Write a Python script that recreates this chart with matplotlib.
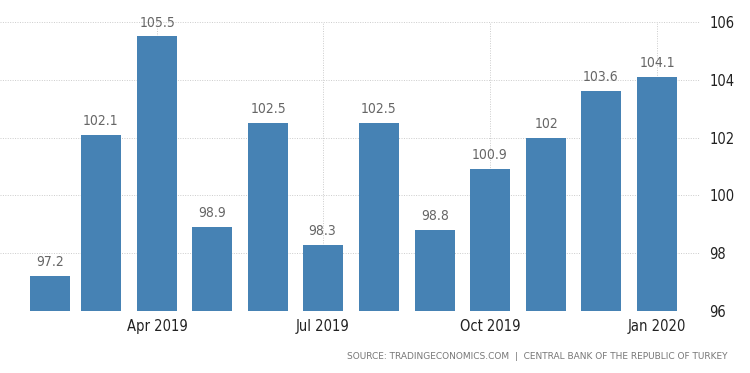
import datetime as dt
import matplotlib
matplotlib.use('Agg')
import matplotlib.pyplot as plt
import matplotlib.dates as mdates

months = ['2019-02', '2019-03', '2019-04', '2019-05', '2019-06', '2019-07',
          '2019-08', '2019-09', '2019-10', '2019-11', '2019-12', '2020-01']
values = [97.2, 102.1, 105.5, 98.9, 102.5, 98.3, 102.5, 98.8, 100.9, 102, 103.6, 104.1]
labels = ['97.2', '102.1', '105.5', '98.9', '102.5', '98.3', '102.5', '98.8', '100.9', '102', '103.6', '104.1']
xticks = ['2019-04', '2019-07', '2019-10', '2020-01']
yticks = [96, 98, 100, 102, 104, 106]

dates = [dt.datetime.strptime(m, '%Y-%m') for m in months]
tick_dates = [dt.datetime.strptime(m, '%Y-%m') for m in xticks]

plt.rcParams['font.stretch'] = 'condensed'

fig = plt.figure(figsize=(7.5, 3.73), dpi=100)
ax = fig.add_axes([0.0, 0.166, 0.933, 0.775])

bottom = yticks[0]
ax.bar(dates, [v - bottom for v in values], bottom=bottom, width=22,
       color='#4682b4', zorder=3)

for d, v, lab in zip(dates, values, labels):
    ax.annotate(lab, (d, v), xytext=(0, 5), textcoords='offset points',
                ha='center', va='bottom', color='#666666', fontsize=10)

ax.set_xlim(dates[0] - dt.timedelta(days=27.5), dates[-1] + dt.timedelta(days=23.5))
ax.set_ylim(96, 106)
ax.set_yticks(yticks)
ax.set_xticks(tick_dates)
ax.xaxis.set_major_formatter(mdates.DateFormatter('%b %Y'))
ax.yaxis.tick_right()

ax.grid(True, color='#cccccc', linestyle=(0, (1, 1.5)), linewidth=0.7, zorder=0)
for s in ax.spines.values():
    s.set_visible(False)
ax.tick_params(axis='both', length=0, labelsize=10.5, colors='#222222')
ax.tick_params(axis='x', pad=6)
ax.tick_params(axis='y', pad=7)

fig.text(0.97, 0.045, 'SOURCE: TRADINGECONOMICS.COM  |  CENTRAL BANK OF THE REPUBLIC OF TURKEY',
         ha='right', va='center', fontsize=6.5, color='#777777', fontstretch='normal')

fig.savefig('out.png', dpi=100)
